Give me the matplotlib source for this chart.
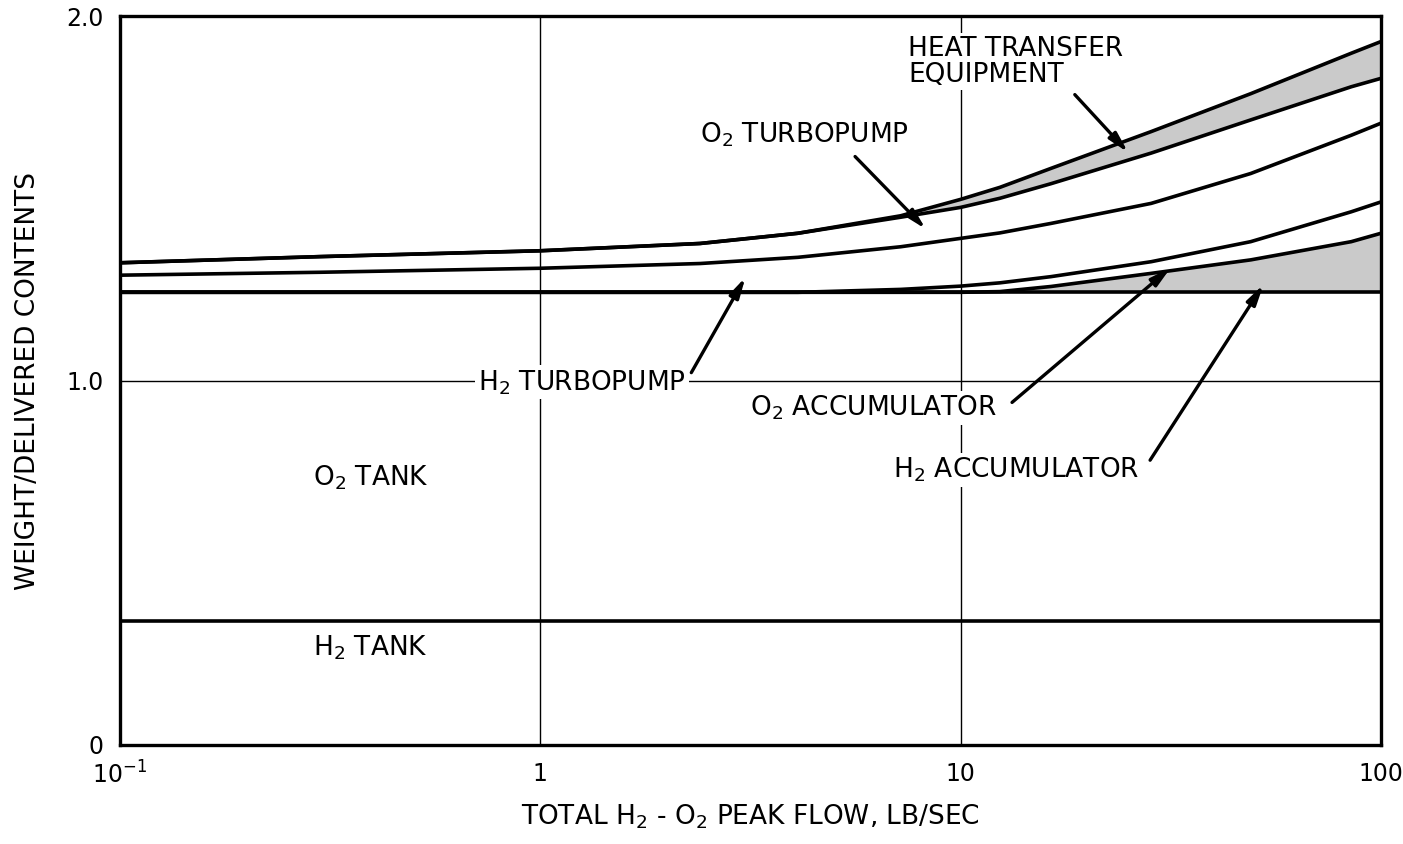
import numpy as np
import matplotlib.pyplot as plt

# values
flow = [0.1, 0.3, 1, 2.4, 4.1, 7.2, 10, 12.4, 16.4, 28.4, 49, 85, 100]
h2_tank = [0.34] * len(flow)
o2_tank = [1.242] * len(flow)
h2_accum = [1.242, 1.242, 1.242, 1.242, 1.242, 1.242, 1.242, 1.244, 1.258, 1.294, 1.331, 1.381, 1.404]
o2_accum = [1.242, 1.242, 1.242, 1.242, 1.242, 1.25, 1.259, 1.268, 1.285, 1.326, 1.381, 1.463, 1.49]
h2_turbo = [1.289, 1.297, 1.308, 1.321, 1.338, 1.367, 1.39, 1.405, 1.431, 1.486, 1.568, 1.673, 1.706]
o2_turbo = [1.323, 1.34, 1.356, 1.376, 1.404, 1.448, 1.475, 1.50, 1.54, 1.624, 1.715, 1.806, 1.829]
heat_eq = [1.323, 1.34, 1.356, 1.376, 1.404, 1.452, 1.497, 1.53, 1.582, 1.683, 1.787, 1.898, 1.93]

plt.rcParams['font.family'] = ['DejaVu Sans']
plt.rcParams['mathtext.fontset'] = 'dejavusans'

fig = plt.figure(figsize=(14.03, 8.44), dpi=100)
ax = fig.add_axes([0.0855, 0.1173, 0.8988, 0.8637])

x = np.array(flow)
shade = '#cacaca'
ax.fill_between(x, o2_tank, h2_accum, color=shade, lw=0)
ax.fill_between(x, o2_turbo, heat_eq, color=shade, lw=0)

lw = 2.6
for y in [h2_tank, o2_tank, h2_accum, o2_accum, h2_turbo, o2_turbo, heat_eq]:
    ax.plot(x, y, color='k', lw=lw, solid_capstyle='butt')

# grid lines
ax.axvline(1, color='k', lw=1.0, zorder=0)
ax.axvline(10, color='k', lw=1.0, zorder=0)
ax.axhline(1.0, color='k', lw=1.0, zorder=0)

ax.set_xscale('log')
ax.set_xlim(0.1, 100)
ax.set_ylim(0, 2.0)
ax.set_xticks([0.1, 1, 10, 100])
ax.set_xticklabels([r'10$^{-1}$', '1', '10', '100'])
ax.minorticks_off()
ax.set_yticks([0, 1.0, 2.0])
ax.set_yticklabels(['0', '1.0', '2.0'])
ax.tick_params(length=0, labelsize=17, pad=12)
for s in ax.spines.values():
    s.set_linewidth(2.4)

ax.set_xlabel(r'TOTAL H$_2$ - O$_2$ PEAK FLOW, LB/SEC', fontsize=19, labelpad=10)
ax.set_ylabel('WEIGHT/DELIVERED CONTENTS', fontsize=19, labelpad=18)

fs = 19
bg = dict(facecolor='white', edgecolor='none', pad=2)
ax.text(0.395, 0.733, r'O$_2$ TANK', fontsize=fs, ha='center', va='center')
ax.text(0.395, 0.266, r'H$_2$ TANK', fontsize=fs, ha='center', va='center')
ax.text(0.71, 0.995, r'H$_2$ TURBOPUMP', fontsize=fs, ha='left', va='center', bbox=bg)
ax.text(2.4, 1.675, r'O$_2$ TURBOPUMP', fontsize=fs, ha='left', va='center')
ax.text(7.5, 1.875, 'HEAT TRANSFER\nEQUIPMENT', fontsize=fs, ha='left', va='center',
        linespacing=1.0, bbox=bg)
ax.text(3.16, 0.925, r'O$_2$ ACCUMULATOR', fontsize=fs, ha='left', va='center', bbox=bg)
ax.text(6.9, 0.754, r'H$_2$ ACCUMULATOR', fontsize=fs, ha='left', va='center', bbox=bg)

arr = dict(arrowstyle='-|>,head_length=1.2,head_width=0.3', color='k', lw=2.4)
ax.annotate('', xy=(25.3, 1.62), xytext=(18.5, 1.79), arrowprops=arr)
ax.annotate('', xy=(8.35, 1.41), xytext=(5.55, 1.62), arrowprops=arr)
ax.annotate('', xy=(3.1, 1.29), xytext=(2.27, 1.015), arrowprops=arr)
ax.annotate('', xy=(32, 1.315), xytext=(13.1, 0.935), arrowprops=arr)
ax.annotate('', xy=(53, 1.27), xytext=(28, 0.775), arrowprops=arr)

fig.savefig('out.png', dpi=100)
